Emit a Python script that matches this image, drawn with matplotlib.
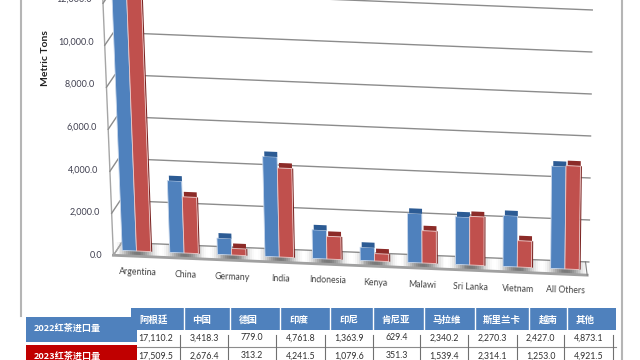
import numpy as np
import matplotlib
matplotlib.use('Agg')
import matplotlib.pyplot as plt
from matplotlib.transforms import Transform

countries = ['Argentina', 'China', 'Germany', 'India', 'Indonesia', 'Kenya',
             'Malawi', 'Sri Lanka', 'Vietnam', 'All Others']
names_cn = ['阿根廷', '中国', '德国', '印度', '印尼', '肯尼亚', '马拉维', '斯里兰卡', '越南', '其他']
imports_2022 = [17110.2, 3418.3, 779.0, 4761.8, 1363.9, 629.4, 2340.2, 2270.3, 2427.0, 4873.1]
imports_2023 = [17509.5, 2676.4, 313.2, 4241.5, 1079.6, 351.3, 1539.4, 2314.1, 1253.0, 4921.5]
y_ticks = [0, 2000, 4000, 6000, 8000, 10000, 12000]
row_labels = ['2022红茶进口量', '2023红茶进口量']

LATIN = ['Lato', 'DejaVu Sans']
CJK = ['Noto Sans CJK SC', 'DejaVu Sans']
BLUE = '#4f81bd'
RED = '#c0504d'


# the chart is a 3d excel one: floor slopes down to the right, bars fan out
class Lean(Transform):
    input_dims = 2
    output_dims = 2

    def transform_non_affine(self, xy):
        xy = np.asarray(xy, dtype=float)
        x = xy[:, 0] - 0.000017 * xy[:, 1] * (1 - xy[:, 0] / 7)
        y = xy[:, 1] - 95 * xy[:, 0]
        return np.column_stack([x, y])


fig = plt.figure(figsize=(6.4, 3.6), dpi=100)
ax = fig.add_axes([0, 0, 1, 1])
ax.set_xlim(-136.5 / 47.6, (640 - 136.5) / 47.6)
ax.set_ylim((251 - 360) / 0.021, 251 / 0.021)
ax.axis('off')
lean = Lean() + ax.transData

# floor, light between the bars and grey around them
fx = np.arange(-0.49, 9.47, 0.04)
shade = np.abs(np.sin(np.pi * fx[:-1])) ** 2
ax.pcolormesh(fx, [-250, 380], np.array([shade]), transform=lean,
              cmap='gray', vmin=-0.9, vmax=1, shading='flat', zorder=1, rasterized=True)
ax.plot([-0.49, 9.47], [-250, -250], color='#a0a0a0', lw=2, transform=lean, zorder=1.5)
ax.plot([9.43, 9.47], [380, -250], color='#808080', lw=0.8, transform=lean, zorder=1.5)
ax.plot([-0.49, -0.3], [-250, 380], color='#a6a6a6', lw=0.8, transform=lean, zorder=1.5)

# wall and gridlines
ax.plot([-0.49, -0.49], [-250, 12300], color='#a6a6a6', lw=1, transform=lean, zorder=1)
for v in y_ticks:
    ax.plot([-0.49, -0.3, 9.5], [v - 250, v + 380, v + 380], color='#8c8c8c', lw=1,
            transform=lean, zorder=1)
    xt = 92 + 10 * (1 - v / 12000)
    yt = 255 - v * 0.0213
    ax.text(xt / 640, 1 - yt / 360, f'{v:,.1f}', transform=fig.transFigure, ha='right',
            va='center', fontsize=6.5, family=LATIN, color='#404050')

# bars
for i, (a, b) in enumerate(zip(imports_2022, imports_2023)):
    z = 3 + i * 0.01
    ax.bar(i - 0.15, a, 0.3, color=BLUE, edgecolor='#c9d8ec', lw=0.6, transform=lean, zorder=z)
    ax.bar(i - 0.13, 240, 0.27, bottom=a, color='#2c5b94', transform=lean, zorder=z)
    ax.bar(i + 0.315, b, 0.03, color='#7a2422', transform=lean, zorder=z)
    ax.bar(i + 0.15, b, 0.3, color=RED, edgecolor='#ecc9c8', lw=0.6, transform=lean, zorder=z + 0.001)
    ax.bar(i + 0.17, 240, 0.27, bottom=b, color='#8c2b28', transform=lean, zorder=z)
    ax.text(i + 0.01, -1030, countries[i], transform=lean, ha='center', va='center',
            rotation=-2, fontsize=6.3, family=LATIN, color='#404040', zorder=4)

fig.text(45 / 640, 1 - 58 / 360, 'Metric Tons', rotation=90, ha='center', va='center',
         fontsize=7.5, fontweight='bold', family=LATIN, color='#222222')

# table and outer frame, in pixels
tb = fig.add_axes([0, 0, 1, 1], zorder=5)
tb.set_xlim(0, 640)
tb.set_ylim(360, 0)
tb.axis('off')
tb.patch.set_alpha(0)

tb.plot([21, 21], [0, 316], color='#b5b5b5', lw=1.5)
tb.plot([622, 622], [0, 360], color='#b5b5b5', lw=1.5)

head_edges = [184, 230, 280, 330, 373, 424, 475, 529, 567]
head_x = [154, 202, 248, 299, 349, 396, 447, 502, 548, 585]
cell_seps = [180, 228, 276, 325, 373, 420, 468, 517, 564, 613]
cell_x = [156, 204, 252, 300.5, 349, 396.5, 444, 492.5, 540.5, 588.5]

tb.fill_between([26, 137], 317, 342, color=BLUE, lw=0)
tb.fill_between([26, 137], 345, 361, color='#c00000', lw=0)
tb.fill_between([131, 616], 308, 330, color=BLUE, lw=0)
tb.text(67, 328, row_labels[0], ha='center', va='center', fontsize=6.6, color='white',
        fontweight='bold', family=CJK)
tb.text(67, 356, row_labels[1], ha='center', va='center', fontsize=6.6, color='white',
        fontweight='bold', family=CJK)
tb.plot([137, 616], [347, 347], color='#8c8c8c', lw=0.8)
for j, name in enumerate(names_cn):
    tb.text(head_x[j], 320, name, ha='center', va='center', fontsize=6.8, color='white',
            fontweight='bold', family=CJK)
    tb.text(cell_x[j], 338, f'{imports_2022[j]:,.1f}', ha='center', va='center', fontsize=6.3,
            color='#303030', family=LATIN)
    tb.text(cell_x[j], 356, f'{imports_2023[j]:,.1f}', ha='center', va='center', fontsize=6.3,
            color='#303030', family=LATIN)
    tb.plot([cell_seps[j], cell_seps[j]], [335, 360], color='#707070', lw=0.8)
for e in head_edges:
    tb.plot([e, e], [308, 330], color='white', lw=1)

fig.savefig('out.png', dpi=100)
